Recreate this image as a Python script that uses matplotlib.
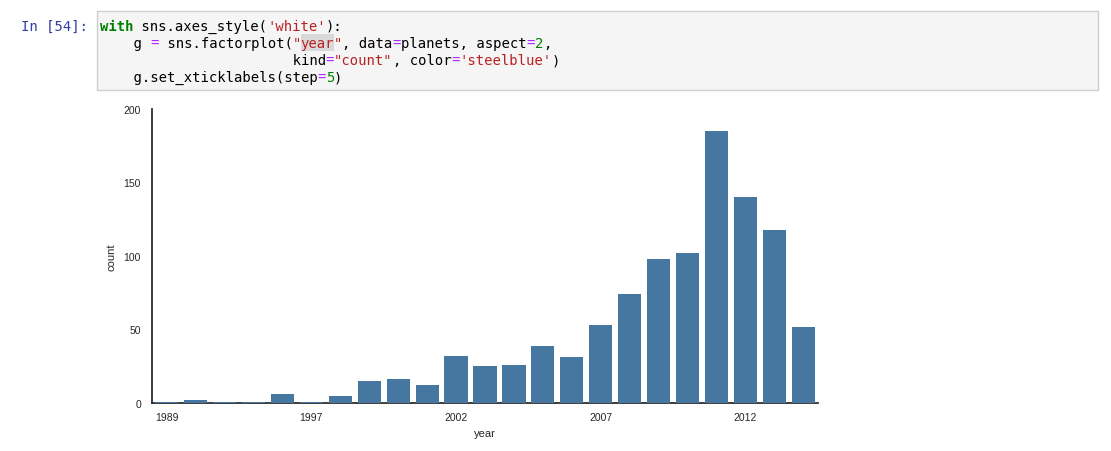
import numpy as np
import matplotlib
matplotlib.use("Agg")
import matplotlib.pyplot as plt
from matplotlib.patches import Rectangle

# planets data: number of discoveries per year
years = [1989, 1992, 1994, 1995, 1996, 1997, 1998, 1999, 2000, 2001, 2002, 2003,
         2004, 2005, 2006, 2007, 2008, 2009, 2010, 2011, 2012, 2013, 2014]
counts = [1, 2, 1, 1, 6, 1, 5, 15, 16, 12, 32, 25,
          26, 39, 31, 53, 74, 98, 102, 185, 140, 118, 52]

prompt = "In [54]:"
# code cell, split in coloured pieces: (text, kind)
code_lines = [
    [("with", "kw"), (" sns.axes_style(", ""), ("'white'", "str"), ("):", "")],
    [("    g ", ""), ("=", "op"), (" sns.factorplot(", ""), ('"', "str"), ("year", "strhl"),
     ('"', "str"), (", data", ""), ("=", "op"), ("planets, aspect", ""), ("=", "op"),
     ("2", "num"), (",", "")],
    [("                       kind", ""), ("=", "op"), ('"count"', "str"), (", color", ""),
     ("=", "op"), ("'steelblue'", "str"), (")", "")],
    [("    g.set_xticklabels(step", ""), ("=", "op"), ("5", "num"), (")", "")],
]
kind_color = {"": "#000000", "kw": "#008000", "str": "#BA2121", "strhl": "#BA2121",
              "op": "#AA22FF", "num": "#008000"}

W, H = 1111, 452
fig = plt.figure(figsize=(W / 100, H / 100), dpi=100)

def fx(px):
    return px / W

def fy(py):
    return 1 - py / H

# code cell box
fig.patches.append(Rectangle((fx(96.5), fy(91)), fx(1098) - fx(96.5), fy(11.5) - fy(91),
                             transform=fig.transFigure, facecolor="#f5f5f5",
                             edgecolor="#cfcfcf", linewidth=1))

mono = "DejaVu Sans Mono"
fsize = 10.0
cw = 0.602 * fsize * 100 / 72   # char width in px
x0 = 100
base0 = 31
dy = 17.07

fig.text(fx(21), fy(base0), prompt, color="#303F9F", family=mono, size=fsize, va="baseline")

for i, line in enumerate(code_lines):
    col = 0
    yb = base0 + i * dy
    for txt, k in line:
        if k == "strhl":
            fig.patches.append(Rectangle((fx(x0 + col * cw), fy(yb + 4)), len(txt) * cw / W, 17 / H,
                                         transform=fig.transFigure, facecolor="#d9d9d9",
                                         edgecolor="none"))
        fig.text(fx(x0 + col * cw), fy(yb), txt, color=kind_color[k], family=mono, size=fsize,
                 va="baseline", weight="bold" if k == "kw" else "normal")
        col += len(txt)

# the chart
ax = fig.add_axes([fx(152), fy(404), fx(818) - fx(152), fy(110) - fy(404)])
x = np.arange(len(years))
ax.bar(x, counts, width=0.8, color="#4677a0", linewidth=0, zorder=3)
ax.set_xlim(-0.5, len(years) - 0.5)
ax.set_ylim(0, 200)
ax.set_yticks([0, 50, 100, 150, 200])
ax.set_xticks(x[::5])
ax.set_xticklabels([str(y) for y in years[::5]])

for s in ["top", "right"]:
    ax.spines[s].set_visible(False)
for s in ["left", "bottom"]:
    ax.spines[s].set_color("#262626")
    ax.spines[s].set_linewidth(1.25)

sans = "Liberation Sans"
ax.tick_params(axis="x", length=0, pad=6.5, labelsize=7.5, labelcolor="#262626")
ax.tick_params(axis="y", length=0, pad=8, labelsize=7.5, labelcolor="#262626")
for lab in ax.get_xticklabels() + ax.get_yticklabels():
    lab.set_family(sans)
ax.set_xlabel("year", family=sans, size=8, color="#262626", labelpad=4)
ax.set_ylabel("count", family=sans, size=8, color="#262626", labelpad=5)

fig.savefig("out.png", dpi=100)
